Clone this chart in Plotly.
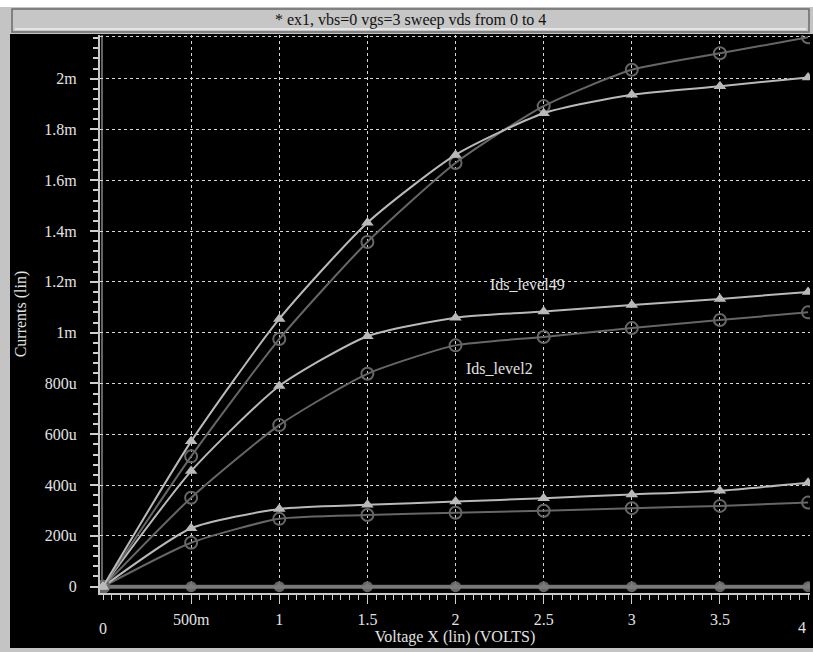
import plotly.graph_objects as go

# ---- data (currents in mA) ----
vds = [0, 0.5, 1, 1.5, 2, 2.5, 3, 3.5, 4]
ids_level49_hi = [0, 0.572, 1.054, 1.433, 1.700, 1.864, 1.937, 1.970, 2.005]
ids_level2_hi = [0, 0.513, 0.975, 1.357, 1.668, 1.892, 2.035, 2.100, 2.163]
ids_level49_mid = [0, 0.455, 0.790, 0.986, 1.059, 1.083, 1.109, 1.133, 1.160]
ids_level2_mid = [0, 0.350, 0.636, 0.838, 0.950, 0.983, 1.018, 1.050, 1.080]
ids_level49_low = [0, 0.230, 0.306, 0.322, 0.335, 0.348, 0.363, 0.378, 0.409]
ids_level2_low = [0, 0.173, 0.267, 0.282, 0.291, 0.299, 0.309, 0.318, 0.331]
ids_level49_off = [0, 0, 0, 0, 0, 0, 0, 0, 0]
ids_level2_off = [0, 0, 0, 0, 0, 0, 0, 0, 0]

y_tickvals = [0, 0.2, 0.4, 0.6, 0.8, 1.0, 1.2, 1.4, 1.6, 1.8, 2.0]
y_ticktext = ["0", "200u", "400u", "600u", "800u", "1m", "1.2m", "1.4m", "1.6m", "1.8m", "2m"]
x_tickvals = [0.5, 1, 1.5, 2, 2.5, 3, 3.5]
x_ticktext = ["500m", "1", "1.5", "2", "2.5", "3", "3.5"]

FONT = "Liberation Serif"
LIGHT = "#b9b9b9"
DARK = "#666666"
TXT = "#e2e2e2"
FS = 16

fig = go.Figure()


def add(y, color, symbol, msize, lw=2, mline=None):
    marker = dict(symbol=symbol, size=msize, color=color)
    if mline:
        marker["line"] = dict(color=color, width=mline)
    fig.add_trace(go.Scatter(x=vds, y=y, mode="lines+markers",
                             line=dict(color=color, width=lw, shape="spline", smoothing=0.6),
                             marker=marker, showlegend=False, hoverinfo="skip"))


add(ids_level2_off, DARK, "circle", 11, lw=4)
add(ids_level49_off, "#7a7a7a", "triangle-up", 9, lw=3)
add(ids_level2_low, DARK, "circle-open", 12, mline=2)
add(ids_level49_low, LIGHT, "triangle-up", 11)
add(ids_level2_mid, DARK, "circle-open", 12, mline=2)
add(ids_level49_mid, LIGHT, "triangle-up", 11)
add(ids_level2_hi, DARK, "circle-open", 12, mline=2)
add(ids_level49_hi, LIGHT, "triangle-up", 11)

# layout geometry: plot area x 100..810, y 35..593
L, R, T, B = 100, 810, 35, 593
W, H = 813, 652


def px(x):
    return (x - L) / (R - L)


def py(y):
    return (B - y) / (B - T)


shapes = [
    # white top strip
    dict(type="rect", xref="paper", yref="paper", x0=px(0), x1=px(W), y0=py(0), y1=py(7),
         fillcolor="white", line=dict(width=0), layer="below"),
    # left gray strip
    dict(type="rect", xref="paper", yref="paper", x0=px(0), x1=px(10), y0=py(7), y1=py(H),
         fillcolor="#c4c4c4", line=dict(width=0), layer="below"),
    # bottom gray strip
    dict(type="rect", xref="paper", yref="paper", x0=px(0), x1=px(W), y0=py(648), y1=py(H),
         fillcolor="#c4c4c4", line=dict(width=0), layer="below"),
    # title bar area
    dict(type="rect", xref="paper", yref="paper", x0=px(10), x1=px(W), y0=py(7), y1=py(34),
         fillcolor="#c4c4c4", line=dict(width=0), layer="below"),
    dict(type="rect", xref="paper", yref="paper", x0=px(12), x1=px(809), y0=py(9), y1=py(32),
         fillcolor="#c6c6c6", line=dict(color="#6a6a6a", width=1.5), layer="below"),
    dict(type="line", xref="paper", yref="paper", x0=px(15), x1=px(806), y0=py(29), y1=py(29),
         line=dict(color="#f0f0f0", width=1.5), layer="below"),
    # top dotted border of plot
    dict(type="line", xref="paper", yref="paper", x0=0, x1=1, y0=py(36.5), y1=py(36.5),
         line=dict(color="#d0d0d0", width=1, dash="dot"), layer="below"),
    # plot left border line
    dict(type="line", xref="paper", yref="paper", x0=px(102), x1=px(102), y0=0, y1=1,
         line=dict(color="#c8c8c8", width=1), layer="below"),
]

annotations = [
    dict(text="* ex1, vbs=0 vgs=3 sweep vds from 0 to 4", xref="paper", yref="paper",
         x=px(410), y=py(20), showarrow=False, font=dict(family=FONT, size=FS, color="#111111"),
         xanchor="center", yanchor="middle"),
    dict(text="Ids_level49", x=2.41, y=1.188, xref="x", yref="y", showarrow=False,
         font=dict(family=FONT, size=FS, color=TXT)),
    dict(text="Ids_level2", x=2.25, y=0.857, xref="x", yref="y", showarrow=False,
         font=dict(family=FONT, size=FS, color=TXT)),
    dict(text="0", x=0, xref="x", yref="paper", y=py(628), showarrow=False,
         font=dict(family=FONT, size=FS, color=TXT), yanchor="middle"),
    dict(text="4", x=4, xref="x", yref="paper", y=py(627), showarrow=False,
         font=dict(family=FONT, size=FS, color=TXT), yanchor="middle", xanchor="right"),
]

fig.update_layout(
    width=W, height=H,
    margin=dict(l=L, r=W - R, t=T, b=H - B, pad=0, autoexpand=False),
    paper_bgcolor="black", plot_bgcolor="black",
    shapes=shapes, annotations=annotations,
    font=dict(family=FONT, size=FS, color=TXT),
    xaxis=dict(
        range=[-0.017, 4.011], tickvals=x_tickvals, ticktext=x_ticktext,
        showgrid=True, gridcolor="#d8d8d8", griddash="dot", gridwidth=1,
        zeroline=False, showline=True, linecolor="#c8c8c8", linewidth=2,
        ticks="outside", ticklen=9, tickcolor="#d0d0d0", tickwidth=1,
        tickfont=dict(family=FONT, size=FS, color=TXT), ticklabelstandoff=2,
        minor=dict(dtick=0.05, tick0=0, ticks="outside", ticklen=5, tickcolor="#d0d0d0", showgrid=False),
        title=dict(text="Voltage X (lin) (VOLTS)", font=dict(family=FONT, size=FS, color=TXT), standoff=0),
        automargin=False, fixedrange=True,
    ),
    yaxis=dict(
        range=[-0.025, 2.172], tickvals=y_tickvals, ticktext=y_ticktext,
        showgrid=True, gridcolor="#d8d8d8", griddash="dot", gridwidth=1,
        zeroline=False, showline=True, linecolor="#c8c8c8", linewidth=2,
        ticks="outside", ticklen=8, tickcolor="#d0d0d0", tickwidth=1.5,
        tickfont=dict(family=FONT, size=FS, color=TXT), ticklabelstandoff=10,
        minor=dict(dtick=0.04, tick0=0, ticks="outside", ticklen=5, tickcolor="#d0d0d0", showgrid=False),
        title=dict(text="Currents (lin)", font=dict(family=FONT, size=FS, color=TXT), standoff=14),
        automargin=False, fixedrange=True,
    ),
)

fig.write_html("out.html", config={"displayModeBar": False},
               post_script="document.body.style.margin='0';document.body.style.overflow='hidden';")
